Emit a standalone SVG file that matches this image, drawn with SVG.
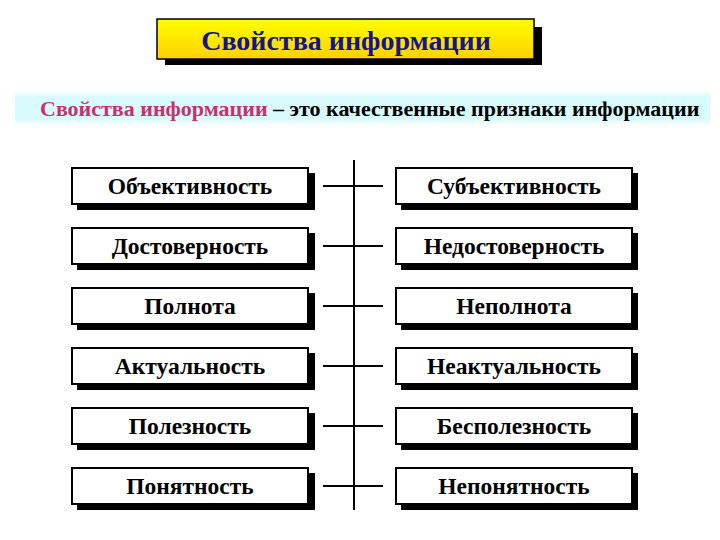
<svg xmlns="http://www.w3.org/2000/svg" width="720" height="540" viewBox="0 0 720 540">
<defs>
<linearGradient id="yel" x1="0" y1="0" x2="0" y2="1">
<stop offset="0" stop-color="#ffff00"/>
<stop offset="1" stop-color="#ffd000"/>
</linearGradient>
<linearGradient id="cyan" x1="0" y1="0" x2="0" y2="1">
<stop offset="0" stop-color="#ffffff"/>
<stop offset="0.2" stop-color="#d8fbfd"/>
<stop offset="0.8" stop-color="#d8fbfd"/>
<stop offset="1" stop-color="#ffffff"/>
</linearGradient>
<style>
.t{font-family:"Liberation Serif","Times New Roman",serif;font-weight:bold;}
.bt{font-size:23.5px;fill:#000;text-anchor:middle;}
.box{fill:#fff;stroke:#000;stroke-width:2;}
.sh{fill:#000;}
.ln{stroke:#000;stroke-width:2;fill:none;}
</style>
</defs>
<rect width="720" height="540" fill="#fff"/>
<g id="title">
<rect x="165" y="27" width="377" height="38" class="sh"/>
<rect x="157" y="19" width="377" height="40" fill="url(#yel)" stroke="#000" stroke-width="1.5"/>
<text x="346" y="50" class="t" font-size="28" fill="#14148f" text-anchor="middle">Свойства информации</text>
</g>
<g id="definition">
<rect x="15" y="90" width="695" height="36" fill="url(#cyan)"/>
<text x="40" y="116" class="t" font-size="22"><tspan fill="#c8306e">Свойства информации</tspan><tspan fill="#000"> – это качественные признаки информации</tspan></text>
</g>
<g id="connectors">
<line x1="354" y1="160" x2="354" y2="510" class="ln" stroke-width="3"/>
<line x1="323" y1="186" x2="383" y2="186" class="ln"/>
<line x1="323" y1="246" x2="383" y2="246" class="ln"/>
<line x1="323" y1="306" x2="383" y2="306" class="ln"/>
<line x1="323" y1="366" x2="383" y2="366" class="ln"/>
<line x1="323" y1="426" x2="383" y2="426" class="ln"/>
<line x1="323" y1="486" x2="383" y2="486" class="ln"/>
</g>
<g id="n-objective"><rect x="77" y="173" width="238" height="37" class="sh"/><rect x="72" y="168" width="236" height="36" class="box"/><text x="190" y="194" class="t bt">Объективность</text></g>
<g id="n-subjective"><rect x="401" y="173" width="237" height="37" class="sh"/><rect x="396" y="168" width="236" height="36" class="box"/><text x="514" y="194" class="t bt">Субъективность</text></g>
<g id="n-reliable"><rect x="77" y="233" width="238" height="37" class="sh"/><rect x="72" y="228" width="236" height="36" class="box"/><text x="190" y="254" class="t bt">Достоверность</text></g>
<g id="n-unreliable"><rect x="401" y="233" width="237" height="37" class="sh"/><rect x="396" y="228" width="236" height="36" class="box"/><text x="514" y="254" class="t bt">Недостоверность</text></g>
<g id="n-complete"><rect x="77" y="293" width="238" height="37" class="sh"/><rect x="72" y="288" width="236" height="36" class="box"/><text x="190" y="314" class="t bt">Полнота</text></g>
<g id="n-incomplete"><rect x="401" y="293" width="237" height="37" class="sh"/><rect x="396" y="288" width="236" height="36" class="box"/><text x="514" y="314" class="t bt">Неполнота</text></g>
<g id="n-actual"><rect x="77" y="353" width="238" height="37" class="sh"/><rect x="72" y="348" width="236" height="36" class="box"/><text x="190" y="374" class="t bt">Актуальность</text></g>
<g id="n-nonactual"><rect x="401" y="353" width="237" height="37" class="sh"/><rect x="396" y="348" width="236" height="36" class="box"/><text x="514" y="374" class="t bt">Неактуальность</text></g>
<g id="n-useful"><rect x="77" y="413" width="238" height="37" class="sh"/><rect x="72" y="408" width="236" height="36" class="box"/><text x="190" y="434" class="t bt">Полезность</text></g>
<g id="n-useless"><rect x="401" y="413" width="237" height="37" class="sh"/><rect x="396" y="408" width="236" height="36" class="box"/><text x="514" y="434" class="t bt">Бесполезность</text></g>
<g id="n-clear"><rect x="77" y="473" width="238" height="37" class="sh"/><rect x="72" y="468" width="236" height="36" class="box"/><text x="190" y="494" class="t bt">Понятность</text></g>
<g id="n-unclear"><rect x="401" y="473" width="237" height="37" class="sh"/><rect x="396" y="468" width="236" height="36" class="box"/><text x="514" y="494" class="t bt">Непонятность</text></g>
</svg>
